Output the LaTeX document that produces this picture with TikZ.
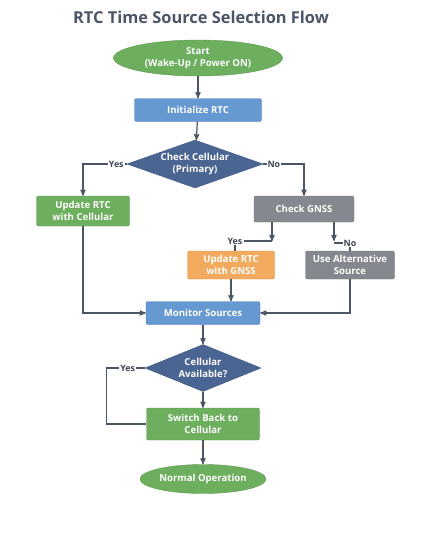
\documentclass[tikz,border=0pt]{standalone}
\usepackage{fontspec}
\setmainfont{Open Sans}
\usepackage{tikz}
\usetikzlibrary{arrows}
\usetikzlibrary{positioning,shapes.geometric,calc}

\definecolor{gfill}{HTML}{6DAF5E}
\definecolor{gdraw}{HTML}{5A9A4C}
\definecolor{bfill}{HTML}{6698D1}
\definecolor{bdraw}{HTML}{4D7FBF}
\definecolor{dfill}{HTML}{4A6591}
\definecolor{ddraw}{HTML}{3E5680}
\definecolor{kfill}{HTML}{85898F}
\definecolor{kdraw}{HTML}{6E7278}
\definecolor{ofill}{HTML}{F2AA5E}
\definecolor{odraw}{HTML}{DB9248}
\definecolor{lcol}{HTML}{4B5563}
\definecolor{tcol}{HTML}{4A5568}

\begin{document}
\begin{tikzpicture}[x=1pt,y=-1pt,on grid,>=stealth',
		txt/.style={text=white,font=\bfseries\fontsize{9.6}{12}\selectfont,align=center},
		term/.style={ellipse,txt,draw=gdraw,fill=gfill,inner sep=0pt},
		proc/.style={rectangle,rounded corners=2pt,txt,inner sep=0pt},
		dec/.style={diamond,txt,draw=ddraw,fill=dfill,inner sep=0pt,aspect=2.8},
		lbl/.style={fill=white,inner sep=1pt,text=lcol!80!black,font=\bfseries\fontsize{8.8}{10}\selectfont},
		line/.style={draw=lcol,line width=1.2pt}]
		\useasboundingbox (0,0) rectangle (424,533);
		\node[text=tcol,font=\bfseries\fontsize{16.4}{19}\selectfont] (title) at (201,17) {RTC Time Source Selection Flow};
		
		\node[term,minimum width=169pt,minimum height=36pt] (start) at (198,58) {Start\\(Wake-Up / Power ON)};
		\node[proc,draw=bdraw,fill=bfill,minimum width=127pt,minimum height=23pt] (init) [below=52pt of start] {Initialize RTC};
		\node[dec,minimum width=136pt,minimum height=48pt] (check) [below left=54pt and 3pt of init] {Check Cellular\\(Primary)};
		\node[proc,draw=gdraw,fill=gfill,minimum width=93pt,minimum height=30pt] (upcell) [below left=47pt and 112pt of check] {Update RTC\\with Cellular};
		\node[proc,draw=kdraw,fill=kfill,minimum width=100pt,minimum height=26pt] (gnss) [below right=45pt and 109pt of check] {Check GNSS};
		\node[proc,draw=odraw,fill=ofill,minimum width=87pt,minimum height=28pt] (upgnss) [below left=56pt and 73pt of gnss] {Update RTC\\with GNSS};
		\node[proc,draw=kdraw,fill=kfill,minimum width=89pt,minimum height=28pt] (alt) [below right=56pt and 46pt of gnss] {Use Alternative\\Source};
		\node[proc,draw=bdraw,fill=bfill,minimum width=114pt,minimum height=23pt] (monitor) [below left=48pt and 28pt of upgnss] {Monitor Sources};
		\node[dec,minimum width=116pt,minimum height=47pt] (avail) [below=55pt of monitor] {Cellular\\Available?};
		\node[proc,draw=gdraw,fill=gfill,minimum width=113pt,minimum height=32pt] (switch) [below=56pt of avail] {Switch Back to\\Cellular};
		\node[term,minimum width=126pt,minimum height=29pt] (normal) [below=55pt of switch] {Normal Operation};
		
		% GNSS branch labels
		\node[lbl] (gyes) at (235,241) {Yes};
		\node[lbl] (gno) at (350,243) {No};
		\coordinate (gl) at ($(gnss.south)+(-32,0)$);
		\coordinate (gr) at ($(gnss.south)+(30,0)$);
		
		\path[line,->]
		(start) edge (init)
		(init) edge (check)
		(upgnss) edge (upgnss.south |- monitor.north)
		(monitor) edge (avail)
		(avail) edge (switch)
		(switch) edge (normal);
		
		\draw[line,->] (check.west) -| node[pos=0.12,lbl] (cyes) {Yes} (upcell.north);
		\draw[line,->] (check.east) -| node[pos=0.13,lbl] (cno) {No} (gnss.north);
		
		\draw[line,->] (gl) -- (gl |- gyes);
		\draw[line] (gl |- gyes) -- (gyes.east);
		\draw[line] (gyes.south) -- (gyes.south |- upgnss.north);
		\draw[line,->] (gr) -- ($(gr |- gno)+(0,-2)$);
		\draw[line] (gr |- gno) -- (gno.west);
		\draw[line] (gno.south) -- (gno.south |- alt.north);
		
		\draw[line,->] (upcell.south) |- (monitor.west);
		\draw[line,->] (alt.south) |- (monitor.east);
		\draw[line] (avail.west) -- node[pos=0.45,lbl] (ayes) {Yes} ++(-38,0) |- (switch.west);
	\end{tikzpicture}
\end{document}
